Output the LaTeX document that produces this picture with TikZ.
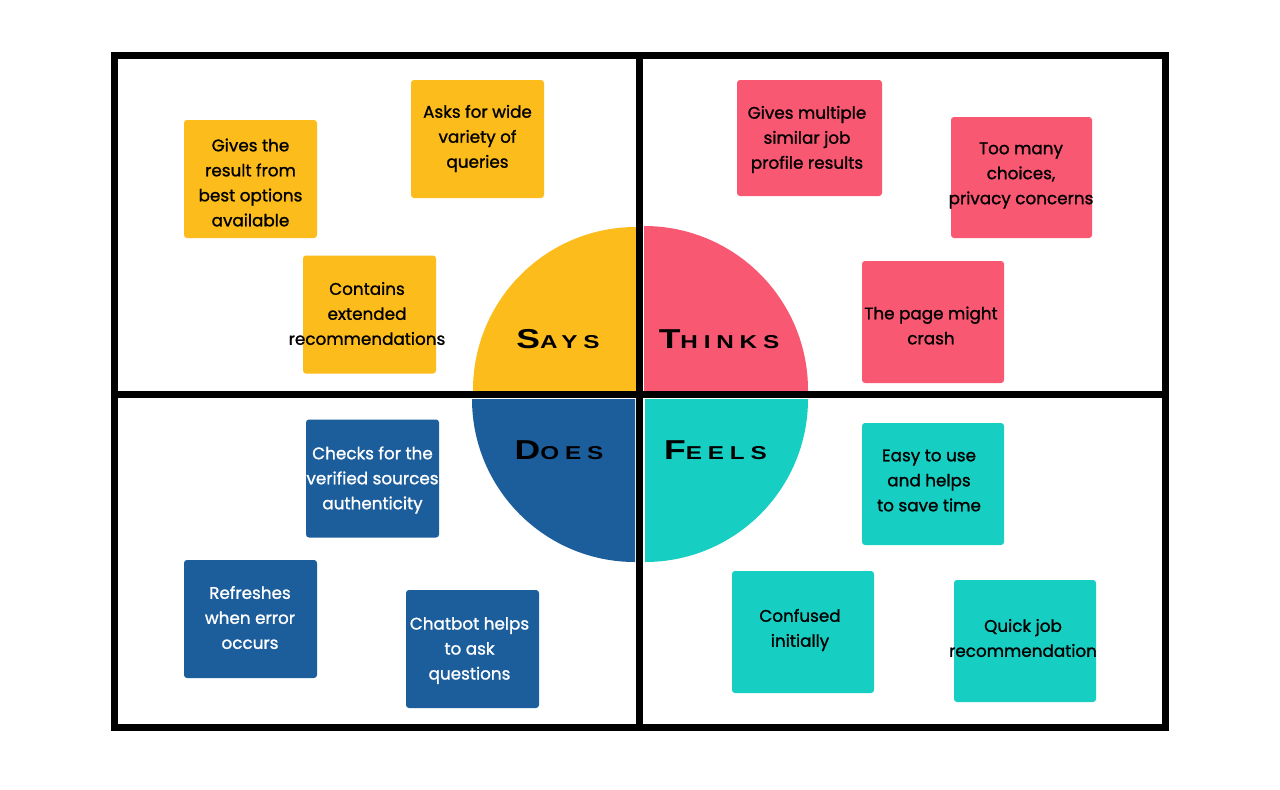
\documentclass[tikz,border=0pt]{standalone}
\usepackage{fontspec}
\usepackage{graphicx}
\setmainfont[FakeBold=1.2]{Poppins}
\newfontfamily\capsfont[LetterSpace=24]{Liberation Sans}
\definecolor{says}{HTML}{FCBC1B}
\definecolor{thinks}{HTML}{F95872}
\definecolor{does}{HTML}{1C5D9C}
\definecolor{feels}{HTML}{17CEC3}
% quadrant title: large initial, smaller remaining capitals, widened
\newcommand\quadword[2]{\scalebox{1.3}[1]{\capsfont\bfseries\fontsize{20.5}{21}\selectfont #1\fontsize{14}{14}\selectfont #2}}
\tikzset{
  note/.style={rounded corners=2.25pt, inner sep=0pt, minimum width=133*0.75pt, minimum height=118*0.75pt},
  notetext/.style={align=center, inner sep=0pt, font=\fontsize{12.6}{18.75}\selectfont},
  quadtitle/.style={anchor=base, inner sep=0pt, text=black},
  frame/.style={line width=5.25pt}
}
\begin{document}
\begin{tikzpicture}[x=0.75pt, y=-0.75pt]
\fill[white] (0,0) rectangle (1280,789);
\useasboundingbox (0,0) rectangle (1280,789);

% central disc split into four coloured quarters
\begin{scope}
  \clip (460,220) rectangle (636,390);
  \fill[says] (636,390) circle[radius=163];
\end{scope}
\begin{scope}
  \clip (644,220) rectangle (820,390);
  \fill[thinks] (644,390) circle[radius=164];
\end{scope}
\begin{scope}
  \clip (460,399) rectangle (635,570);
  \fill[does] (635,399) circle[radius=163];
\end{scope}
\begin{scope}
  \clip (645,399) rectangle (820,570);
  \fill[feels] (645,399) circle[radius=163];
\end{scope}

% outer frame and dividers
\coordinate (tl) at (114.5,55.5);
\coordinate (br) at (1165,727);
\coordinate (vt) at (639.5,55.5);
\coordinate (vb) at (639.5,727);
\coordinate (hl) at (114.5,394);
\coordinate (hr) at (1165,394);
\draw[frame] (tl) rectangle (br);
\draw[frame] (vt) -- (vb);
\draw[frame] (hl) -- (hr);

% quadrant titles
\node[quadtitle] (tsays) at (558,348) {\quadword{S}{AYS}};
\node[quadtitle] (tthinks) at (719,348) {\quadword{T}{HINKS}};
\node[quadtitle] (tdoes) at (559,459) {\quadword{D}{OES}};
\node[quadtitle] (tfeels) at (715.5,459) {\quadword{F}{EELS}};

% Says notes
\node[note, fill=says] (s1) at (250.5,179) {};
\node[notetext] at (250.5,182.5) {Gives the\\result from\\best options\\available};
\node[note, fill=says] (s2) at (477.5,139) {};
\node[notetext] at (477.5,138.5) {Asks for wide\\variety of\\queries};
\node[note, fill=says] (s3) at (369.5,314.5) {};
\node[notetext] at (367,313.5) {Contains\\extended\\recommendations};

% Thinks notes
\node[note, fill=thinks, minimum width=145*0.75pt, minimum height=116*0.75pt] (t1) at (809.5,138) {};
\node[notetext] at (807,139.5) {Gives multiple\\similar job\\profile results};
\node[note, fill=thinks, minimum width=141*0.75pt, minimum height=121*0.75pt] (t2) at (1021.5,177.5) {};
\node[notetext] at (1021,175.5) {Too many\\choices,\\privacy concerns};
\node[note, fill=thinks, minimum width=142*0.75pt, minimum height=122*0.75pt] (t3) at (933,322) {};
\node[notetext] at (931,325.5) {The page might\\crash};

% Does notes
\node[note, fill=does] (d1) at (372.5,478.5) {};
\node[notetext, text=white] at (372.5,480) {Checks for the\\verified sources\\authenticity};
\node[note, fill=does] (d2) at (250.5,619) {};
\node[notetext, text=white] at (250,617.5) {Refreshes\\when error\\occurs};
\node[note, fill=does] (d3) at (472.5,649) {};
\node[notetext, text=white] at (469.5,650.5) {Chatbot helps\\to ask\\questions};

% Feels notes
\node[note, fill=feels, minimum width=142*0.75pt, minimum height=122*0.75pt] (f1) at (933,484) {};
\node[notetext] at (929,480.5) {Easy to use\\and helps\\to save time};
\node[note, fill=feels, minimum width=142*0.75pt, minimum height=122*0.75pt] (f2) at (803,632) {};
\node[notetext] at (800,630) {Confused\\initially};
\node[note, fill=feels, minimum width=142*0.75pt, minimum height=122*0.75pt] (f3) at (1025,641) {};
\node[notetext] at (1023,638) {Quick job\\recommendation};
\end{tikzpicture}
\end{document}
